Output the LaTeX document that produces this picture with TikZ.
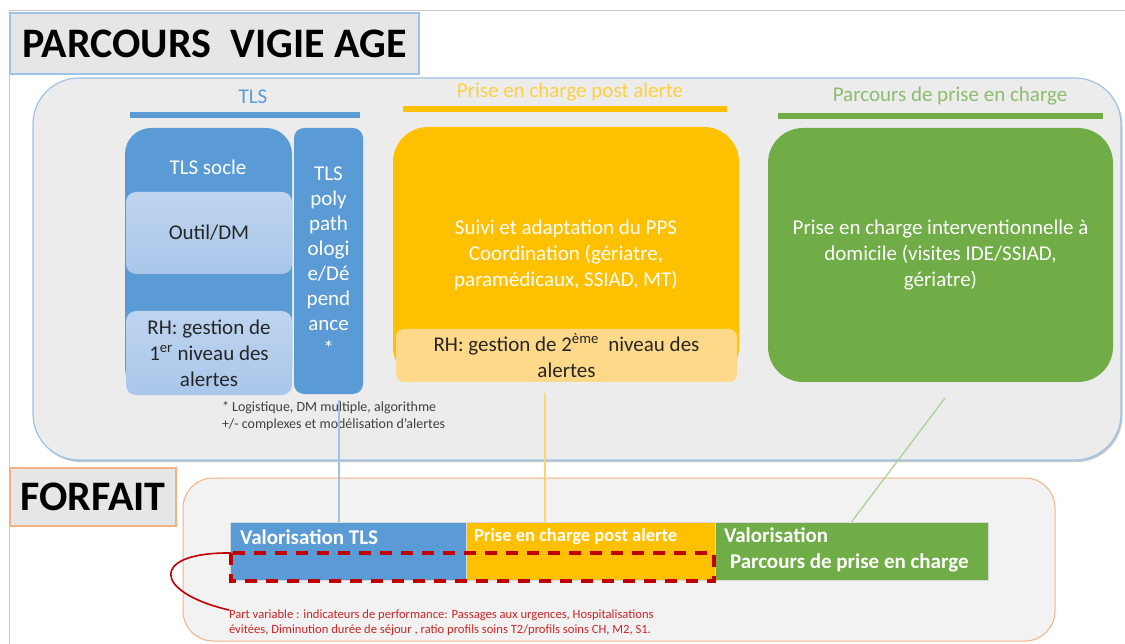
\documentclass[tikz,border=0pt]{standalone}
\usepackage{fontspec}
\setmainfont{Carlito}
\usetikzlibrary{positioning,shadows}
\definecolor{tlsblue}{HTML}{5B9BD5}
\definecolor{tlslight}{HTML}{A9C6EA}
\definecolor{tlsedge}{HTML}{9DC3E6}
\definecolor{pcaorange}{HTML}{FFC000}
\definecolor{pcalight}{HTML}{FFD98A}
\definecolor{ppcgreen}{HTML}{70AD47}
\definecolor{ppclight}{HTML}{A9D18E}
\definecolor{panelgray}{HTML}{ECECEC}
\definecolor{forfaitgray}{HTML}{F2F2F2}
\definecolor{labelgray}{HTML}{E6E6E6}
\definecolor{slideline}{HTML}{C8C8C8}
\definecolor{forfaitedge}{HTML}{F4B183}
\definecolor{alertred}{HTML}{C00000}
\definecolor{notegray}{HTML}{404040}

\begin{document}
\begin{tikzpicture}[x=1pt, y=-1pt,
    every node/.style={inner sep=0pt, outer sep=0pt},
    labelbox/.style={anchor=north west, fill=labelgray, line width=1.2pt, font=\fontsize{42}{46}\selectfont\bfseries},
    headtext/.style={font=\fontsize{21}{24}\selectfont},
    headline/.style={line width=6pt},
    tbox/.style={anchor=north west, align=center, font=\fontsize{21}{26}\selectfont},
    subbox/.style={tbox, rounded corners=10, top color=tlslight!75!white, bottom color=tlslight, text=black!85},
    bar/.style={anchor=north west, minimum height=58, draw=black!15, line width=0.6pt},
    bartext/.style={anchor=west, text=white, font=\fontsize{21}{26}\selectfont\bfseries},
    link/.style={line width=1.2pt},
    partvar/.style={draw=alertred, line width=3.2pt, dash pattern=on 12pt off 9pt}]

    \useasboundingbox (0,0) rectangle (1125,644);
    \draw[slideline, line width=1pt] (9,644) -- (9,11) -- (1125,11);

    % titre principal
    \node[labelbox, draw=tlsedge, minimum width=409, minimum height=61] (titre) at (10,13) {PARCOURS\ \ VIGIE AGE};

    % cadre du parcours
    \node[anchor=north west, draw=tlsedge, line width=1.2pt, fill=panelgray, rounded corners=46,
          minimum width=1088, minimum height=382,
          drop shadow={shadow xshift=1.5pt, shadow yshift=-2pt, fill=black!45, opacity=0.5}] (parcours) at (33,78) {};

    % en-tetes des colonnes
    \node[headtext, text=tlsblue] (hTLS) at (253,97) {TLS};
    \draw[headline, tlsblue] (130,115.5) -- (360,115.5);
    \node[headtext, text=pcaorange!75!white] (hPCA) at (570,92) {Prise en charge post alerte};
    \draw[headline, pcaorange] (403,109.5) -- (727,109.5);
    \node[headtext, text=ppcgreen!80!white] (hPPC) at (950,96) {Parcours de prise en charge};
    \draw[headline, ppcgreen] (778,116) -- (1103,116);

    % colonne TLS
    \node[tbox, fill=tlsblue, rounded corners=26, minimum width=167, minimum height=266] (socle) at (125,128) {};
    \node[headtext, text=white] (socleTitre) at (208,167) {TLS socle};
    \node[subbox, minimum width=166, minimum height=82] (outil) at (126,192) {Outil/DM};
    \node[subbox, minimum width=166, minimum height=84] (rhTLS) at (126,311) {RH: gestion de\\1\textsuperscript{er} niveau des\\alertes};
    \node[tbox, fill=tlsblue, rounded corners=10, minimum width=69, minimum height=266, text=white,
          font=\fontsize{21}{25}\selectfont] (poly) at ([xshift=2pt]socle.north east)
          {TLS\\poly\\path\\ologi\\e/Dé\\pend\\ance\\*};
    \node[anchor=north west, align=left, text=notegray, font=\fontsize{14}{16.5}\selectfont] (note) at (222,402)
          {* Logistique, DM multiple, algorithme\\+/- complexes et modélisation d'alertes};

    % colonne prise en charge post alerte
    \node[tbox, fill=pcaorange, rounded corners=35, minimum width=346, minimum height=255, text=white] (suivi) at (393,127)
          {Suivi et adaptation du PPS\\Coordination (gériatre,\\paramédicaux, SSIAD, MT)};
    \node[tbox, fill=pcalight, rounded corners=8, minimum width=341, minimum height=53, text=black!85] (rhPCA) at (396,329)
          {RH: gestion de 2\textsuperscript{ème}\ \ niveau des\\alertes};

    % colonne parcours de prise en charge
    \node[tbox, fill=ppcgreen, rounded corners=35, minimum width=345, minimum height=254, text=white] (domicile) at (768,128)
          {Prise en charge interventionnelle à\\domicile (visites IDE/SSIAD,\\gériatre)};

    % forfait
    \node[labelbox, draw=forfaitedge, minimum width=166, minimum height=58] (forfait) at (10,468) {FORFAIT};
    \node[anchor=north west, draw=forfaitedge, line width=1pt, fill=forfaitgray, rounded corners=30,
          minimum width=872, minimum height=163] (forfaitZone) at (183,478) {};

    % liens vers les valorisations
    \coordinate (tlsFoot) at (339,400);
    \coordinate (pcaFoot) at (545,393);
    \coordinate (ppcFoot) at (945,398);

    \node[bar, fill=tlsblue, minimum width=236] (valTLS) at (230,522) {};
    \node[bar, fill=pcaorange, minimum width=249, right=0pt of valTLS] (valPCA) {};
    \node[bar, fill=ppcgreen, minimum width=273, right=0pt of valPCA] (valPPC) {};

    \draw[link, tlsedge] (tlsFoot) -- (tlsFoot |- valTLS.north);
    \draw[link, pcalight!80!pcaorange] (pcaFoot) -- (pcaFoot |- valPCA.north);
    \draw[link, ppclight] (ppcFoot) -- (valPPC.north);

    \node[bartext] (txtTLS) at ([xshift=10pt, yshift=-15pt]valTLS.north west) {Valorisation TLS};
    \node[bartext, font=\fontsize{18.5}{22}\selectfont\bfseries] (txtPCA) at ([xshift=8pt, yshift=-15pt]valPCA.north west) {Prise en charge post alerte};
    \node[bartext, anchor=north west, align=left] (txtPPC) at ([xshift=9pt, yshift=-6pt]valPPC.north west)
          {Valorisation\\\hspace{6pt}Parcours de prise en charge};

    % part variable
    \coordinate (pvA) at (231,553);
    \coordinate (pvB) at (714,581);
    \draw[partvar] (pvA) rectangle (pvB);
    \node[anchor=north west, align=left, text=alertred!85!white, font=\fontsize{12.6}{14.5}\selectfont] (noteVar) at (229,610)
          {Part variable : indicateurs de performance: Passages aux urgences, Hospitalisations\\évitées, Diminution durée de séjour , ratio profils soins T2/profils soins CH, M2, S1.};
    \draw[alertred, line width=1.6pt] (pvA) .. controls (150,552) and (152,592) .. (noteVar.north west);
\end{tikzpicture}
\end{document}
